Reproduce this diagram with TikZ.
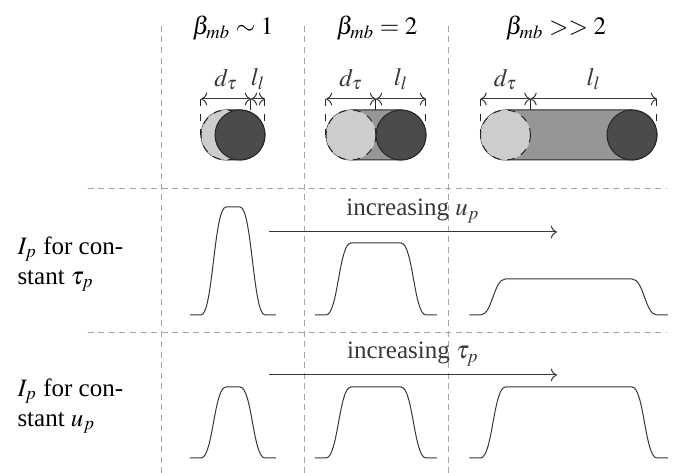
\documentclass[tikz,border=0pt]{standalone}
\usepackage{mathptmx}
\usepackage[no-math]{fontspec}
\setmainfont{Liberation Serif}
\usetikzlibrary{arrows.meta,calc}
\definecolor{gridgray}{RGB}{165,165,165}
\definecolor{lightdisc}{RGB}{205,205,205}
\definecolor{midfill}{RGB}{150,150,150}
\definecolor{darkdisc}{RGB}{75,75,75}
\definecolor{inkgray}{RGB}{55,55,55}
\tikzset{
  gridline/.style={gridgray,dash pattern=on 2.4pt off 1.8pt},
  dimarrow/.style={<->,inkgray},
  sweep/.style={->,inkgray},
  pulse/.style={inkgray,line join=round},
  rowlabel/.style={anchor=north west,align=left,inner sep=0pt},
}

\begin{document}
\begin{tikzpicture}[x=0.4pt,y=-0.4pt]
  \useasboundingbox (0,0) rectangle (676,473);
  % separators
  \draw[gridline] (88,189) -- (666,189);
  \draw[gridline] (88,333) -- (666,333);
  \foreach \gx in {162,305,449}
    \draw[gridline] (\gx,26) -- (\gx,473);
  % column titles
  \node (t1) at (233,28) {$\beta_{mb}\sim 1$};
  \node (t2) at (377,28) {$\beta_{mb}=2$};
  \node (t3) at (556,28) {$\beta_{mb}>>2$};
  % bubbles
  \foreach \cl/\cd/\n in {226/240/1, 351/401/2, 505.5/632/3} {
    \filldraw[fill=midfill,draw=black!85] (\cl,110) -- (\cd,110)
      arc[start angle=-90,end angle=90,radius=25] -- (\cl,160)
      arc[start angle=90,end angle=270,radius=25] -- cycle;
    \draw[black!85,solid] (\cl+25,99) -- (\cl+25,110);
    \filldraw[fill=lightdisc,draw=black!85,dashed] (\cl,135) circle[radius=25];
    \filldraw[fill=darkdisc,draw=black!85] (\cd,135) circle[radius=25];
    \draw[black!85,dashed] (\cl-25,99) -- (\cl-25,135);
    \draw[black!85,dashed] (\cd+25,99) -- (\cd+25,135);
    \coordinate (a\n) at (\cl-25,99);
    \coordinate (b\n) at (\cl+25,99);
    \coordinate (c\n) at (\cd+25,99);
    \draw[dimarrow] (a\n) -- node[above] (dt\n) {$d_\tau$} (b\n);
    \draw[dimarrow] (b\n) -- node[above] (ll\n) {$l_l$} (c\n);
  }
  % row labels
  \node[rowlabel] (ra) at (17,236) {$I_p$ for con-\\stant $\tau_p$};
  \node[rowlabel] (rb) at (17,378) {$I_p$ for con-\\stant $u_p$};
  % trends
  \coordinate (ua) at (269,232);
  \coordinate (ub) at (557,232);
  \draw[sweep] (ua) -- node[above] (iu) {increasing $u_p$} (ub);
  \coordinate (ta) at (269,375);
  \coordinate (tb) at (557,375);
  \draw[sweep] (ta) -- node[above] (it) {increasing $\tau_p$} (tb);
  % pulses, constant tau
  \foreach \cl/\cd/\h in {226/240/108, 351/401/72, 505.5/632/36}
    \draw[pulse] (\cl-36,315) -- (\cl-25,315)
      .. controls (\cl-13,315) and (\cl-12,315-\h) .. (\cl,315-\h)
      -- (\cd,315-\h)
      .. controls (\cd+12,315-\h) and (\cd+13,315) .. (\cd+25,315)
      -- (\cd+36,315);
  % pulses, constant u
  \foreach \cl/\cd in {226/240, 351/401, 505.5/632}
    \draw[pulse] (\cl-36,458) -- (\cl-25,458)
      .. controls (\cl-13,458) and (\cl-12,387) .. (\cl,387)
      -- (\cd,387)
      .. controls (\cd+12,387) and (\cd+13,458) .. (\cd+25,458)
      -- (\cd+36,458);
\end{tikzpicture}
\end{document}
